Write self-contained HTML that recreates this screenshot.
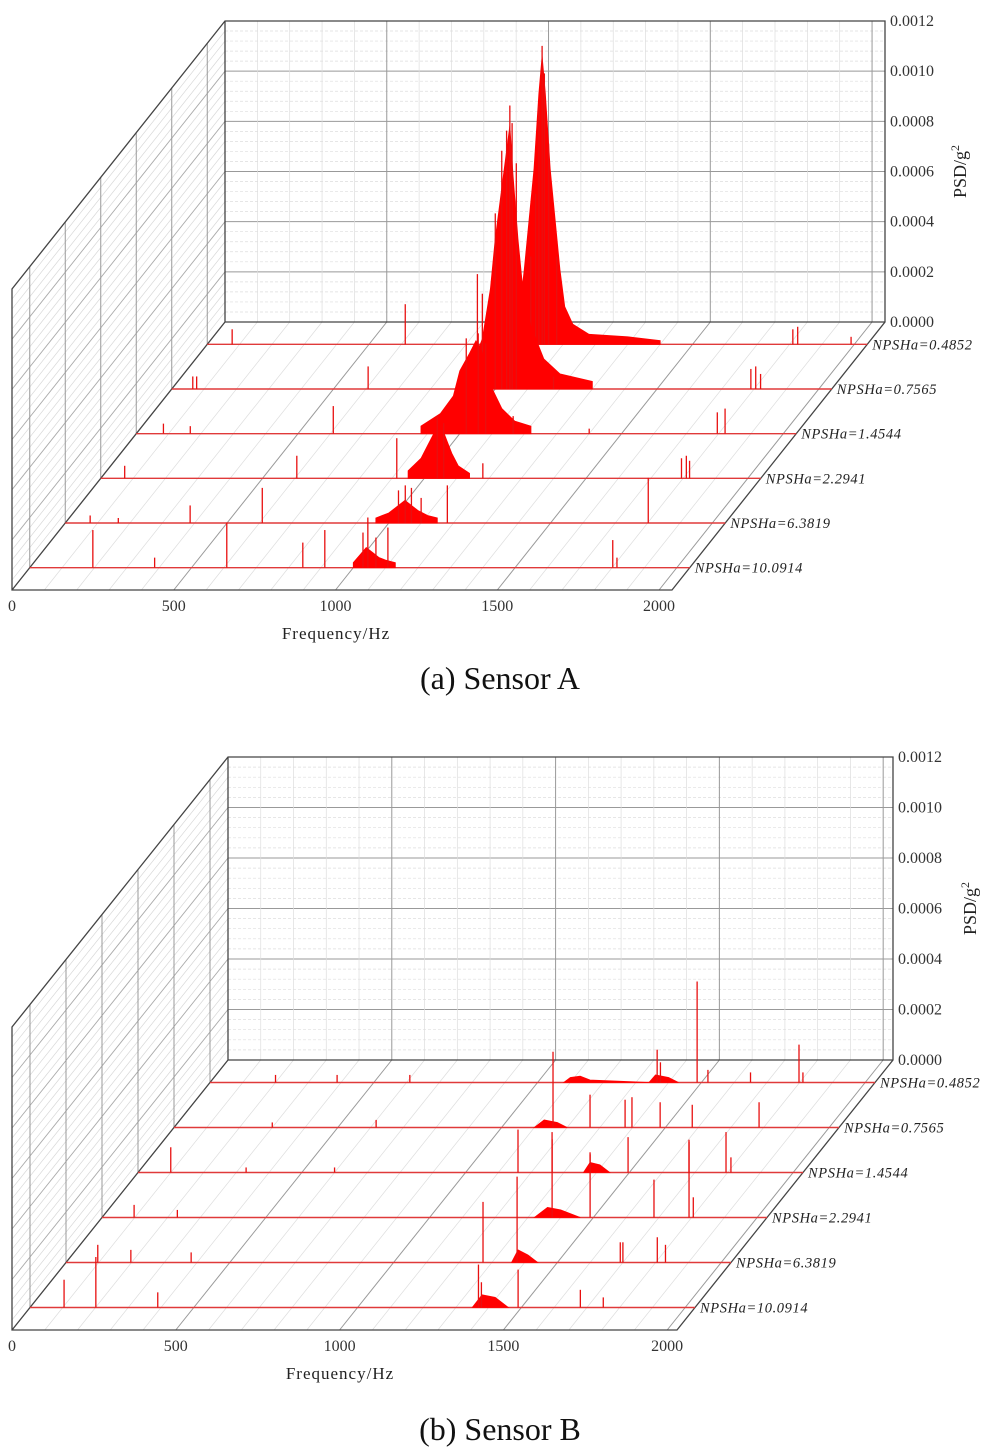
<!DOCTYPE html>
<html><head><meta charset="utf-8"><style>
html,body{margin:0;padding:0;background:#fff;}
svg{display:block;font-family:"Liberation Serif",serif;}
</style></head><body>
<svg id="fig" width="1001" height="1448" viewBox="0 0 1001 1448" xmlns="http://www.w3.org/2000/svg">
<g id="panelA"></g>
<g id="panelB"></g>
<text x="500" y="689" font-size="32" text-anchor="middle" fill="#111">(a) Sensor A</text>
<text x="500" y="1440" font-size="32" text-anchor="middle" fill="#111">(b) Sensor B</text>
</svg>
<script>
// Shared category / tick data
const rowLabels = ['NPSHa=0.4852','NPSHa=0.7565','NPSHa=1.4544','NPSHa=2.2941','NPSHa=6.3819','NPSHa=10.0914'];
const yTickLabels = ['0.0000','0.0002','0.0004','0.0006','0.0008','0.0010','0.0012'];
const yTickValues = [0,2,4,6,8,10,12]; // units of 1e-4 g^2
const xTickLabels = ['0','500','1000','1500','2000'];
const xTickValues = [0,500,1000,1500,2000];

// Sensor A: spikes [freq Hz, PSD 1e-4 g^2]
const aSpikes0 = [[77,0.6],[612,1.6],[835,2.8],[1000,3.5],[1015,6],[1025,9.5],[1035,11.9],[1042,10.8],[1055,8],[1080,3.5],[1810,0.6],[1825,0.7],[1990,0.3]];
const aSpikes1 = [[65,0.5],[77,0.5],[607,0.9],[960,3.8],[1000,7],[1020,9.5],[1035,10.3],[1045,11.3],[1052,10.6],[1065,9],[1180,0.5],[1790,0.8],[1805,0.9],[1820,0.6]];
const aSpikes2 = [[84,0.4],[167,0.3],[609,1.1],[1020,3.8],[1057,4.0],[1080,3.6],[1165,0.7],[1400,0.2],[1796,0.85],[1820,1.0]];
const aSpikes3 = [[74,0.5],[606,0.9],[915,1.6],[1040,2.5],[1060,2.2],[1181,0.6],[1795,0.8],[1810,0.9],[1820,0.7]];
const aSpikes4 = [[77,0.3],[164,0.2],[386,0.7],[609,1.4],[1030,1.3],[1051,1.5],[1070,1.4],[1100,1.0],[1181,1.5],[1802,1.8]];
const aSpikes5 = [[195,1.5],[386,0.4],[609,1.8],[844,1.0],[912,1.5],[1030,1.4],[1045,2.0],[1070,1.2],[1107,1.6],[1802,1.1],[1815,0.4]];
// Sensor A broadband humps [freq, PSD]
const aHump0 = [[940,0.3],[967,1.5],[980,3],[995,5],[1010,7],[1025,10],[1035,11.5],[1045,10],[1060,7],[1075,5],[1090,3],[1105,1.5],[1130,0.8],[1180,0.4],[1300,0.3],[1400,0.15]];
const aHump1 = [[900,0.3],[930,1],[960,2],[985,4],[1000,6],[1020,8],[1035,9.5],[1045,10.5],[1055,8.5],[1070,6],[1085,4],[1110,2.5],[1150,1.2],[1200,0.6],[1300,0.3]];
const aHump2 = [[880,0.3],[940,0.8],[980,1.5],[1000,2.5],[1030,3.2],[1050,3.7],[1065,3.4],[1080,2.8],[1100,1.8],[1130,1],[1170,0.5],[1220,0.3]];
const aHump3 = [[950,0.3],[990,0.8],[1010,1.3],[1030,1.8],[1045,2.2],[1055,2.0],[1070,1.5],[1085,1.0],[1105,0.5],[1140,0.2]];
const aHump4 = [[960,0.2],[1000,0.4],[1030,0.7],[1050,0.9],[1070,0.7],[1090,0.5],[1120,0.3],[1150,0.2]];
const aHump5 = [[1000,0.2],[1020,0.5],[1040,0.8],[1060,0.6],[1080,0.4],[1100,0.3],[1130,0.2]];

// Sensor B spikes
const bSpikes0 = [[200,0.3],[388,0.3],[610,0.3],[1365,1.3],[1375,0.8],[1487,4.0],[1520,0.5],[1650,0.4],[1798,1.5],[1810,0.4]];
const bSpikes1 = [[300,0.2],[617,0.3],[1157,3.0],[1270,1.3],[1377,1.1],[1398,1.2],[1484,1.0],[1582,0.9],[1786,1.0]];
const bSpikes2 = [[100,1.0],[330,0.2],[600,0.2],[1160,1.7],[1264,1.6],[1380,0.8],[1496,1.4],[1682,1.3],[1795,1.6],[1810,0.6]];
const bSpikes3 = [[98,0.5],[230,0.3],[1374,3.1],[1490,2.5],[1685,1.5],[1792,3.0],[1805,0.8]];
const bSpikes4 = [[97,0.7],[198,0.5],[382,0.4],[1273,2.4],[1377,3.4],[1692,0.8],[1700,0.8],[1805,1.0],[1830,0.7]];
const bSpikes5 = [[104,1.1],[201,2.0],[390,0.6],[1369,1.7],[1378,1.0],[1490,1.5],[1680,0.7],[1750,0.4]];
const bHump0 = [[1080,0],[1100,0.2],[1130,0.25],[1160,0.1],[1340,0],[1360,0.3],[1400,0.2],[1430,0]];
const bHump1 = [[1100,0],[1130,0.3],[1170,0.2],[1200,0]];
const bHump2 = [[1360,0],[1380,0.4],[1410,0.3],[1440,0]];
const bHump3 = [[1320,0],[1360,0.4],[1400,0.3],[1460,0]];
const bHump4 = [[1360,0],[1380,0.5],[1410,0.3],[1440,0]];
const bHump5 = [[1350,0],[1380,0.5],[1420,0.4],[1460,0]];

const NS='http://www.w3.org/2000/svg';
function mk(parent, tag, attrs){
  const e=document.createElementNS(NS,tag);
  for(const k in attrs) e.setAttribute(k,attrs[k]);
  parent.appendChild(e); return e;
}

function drawPanel(g, cfg, spikes, humps, prefix){
  const sx = cfg.w / cfg.fmax, sy = (cfg.bottom-cfg.top)/12;
  const bx = f => cfg.bx0 + f*sx;
  const vy = v => cfg.bottom - v*sy;
  const P = (f,v,d) => [bx(f)+cfg.dx*d, vy(v)+cfg.dy*d];
  const xR = cfg.bx0+cfg.w;
  for(let v=0; v<=12; v+=0.4){
    const a=P(0,v,0), b=P(0,v,1);
    const major = Math.abs(v/2-Math.round(v/2))<1e-6;
    const l=mk(g,'line',{x1:a[0],y1:a[1],x2:b[0],y2:b[1],stroke:major?'#aaa':'#d8d8d8','stroke-width':major?0.9:0.7});
    
    
  }
  for(let i=0;i<6;i++){
    const d=(i+0.5)/6; const a=P(0,0,d), b=P(0,12,d);
    const l=mk(g,'line',{x1:a[0],y1:a[1],x2:b[0],y2:b[1],stroke:'#999','stroke-width':1});
    
    
  }
  for(let v=0; v<=12; v+=0.4){
    const major = Math.abs(v/2-Math.round(v/2))<1e-6;
    const l=mk(g,'line',{x1:cfg.bx0,y1:vy(v),x2:xR,y2:vy(v),stroke:major?'#999':'#ddd','stroke-width':major?1:0.7,'stroke-dasharray':major?'':'3,2'});
    
    
  }
  for(let f=100; f<cfg.fmax; f+=100){
    const major = f%500===0;
    const l=mk(g,'line',{x1:bx(f),y1:cfg.top,x2:bx(f),y2:cfg.bottom,stroke:major?'#999':'#ddd','stroke-width':major?1:0.7});
    
    
  }
  for(let f=100; f<cfg.fmax; f+=100){
    const major = f%500===0; const a=P(f,0,0), b=P(f,0,1);
    const l=mk(g,'line',{x1:a[0],y1:a[1],x2:b[0],y2:b[1],stroke:major?'#999':'#ddd','stroke-width':major?1:0.7});
    
    
  }
  const fl=P(0,0,1), fr=P(cfg.fmax,0,1), tl=P(0,12,1);
  const frame=mk(g,'path',{d:`M${fl[0]},${fl[1]} L${tl[0]},${tl[1]} L${cfg.bx0},${cfg.top} L${xR},${cfg.top} L${xR},${cfg.bottom} L${fr[0]},${fr[1]} Z M${cfg.bx0},${cfg.top} L${cfg.bx0},${cfg.bottom} L${xR},${cfg.bottom} M${cfg.bx0},${cfg.bottom} L${fl[0]},${fl[1]}`,fill:'none',stroke:'#444','stroke-width':1.3});
  
  
  for(let r=0;r<6;r++){
    const d=(r+0.5)/6;
    const sg=mk(g,'g',{});
    
    
    const a=P(0,0,d), b=P(cfg.fmax,0,d);
    const base=mk(sg,'line',{x1:a[0],y1:a[1],x2:b[0],y2:b[1],stroke:'#e03a3a','stroke-width':1.4});
    
    
    const h=humps[r];
    let dstr=''; const s=P(h[0][0],0,d); dstr+=`M${s[0]},${s[1]}`;
    h.forEach(p=>{const q=P(p[0],p[1],d); dstr+=` L${q[0]},${q[1]}`;});
    const e=P(h[h.length-1][0],0,d); dstr+=` L${e[0]},${e[1]} Z`;
    const hp=mk(sg,'path',{d:dstr,fill:'#ff0000',stroke:'#ff0000','stroke-width':0.8});
    
    
    spikes[r].forEach(p=>{
      const q0=P(p[0],0,d), q1=P(p[0],p[1],d);
      const l=mk(sg,'line',{x1:q0[0],y1:q0[1],x2:q1[0],y2:q1[1],stroke:'#e81010','stroke-width':1.3});
      
      
    });
    const t=mk(sg,'text',{x:b[0]+5,y:b[1]+5,'font-size':14.5,'font-style':'italic','letter-spacing':'0.6',fill:'#222'});
    t.textContent=rowLabels[r];
    
    
  }
  yTickValues.forEach((v,i)=>{
    const t=mk(g,'text',{x:xR+5,y:vy(v)+5,'font-size':16,fill:'#333'});
    t.textContent=yTickLabels[i];
    
    
  });
  const yt=mk(g,'text',{x:0,y:0,'font-size':18,fill:'#222','text-anchor':'middle',transform:`translate(${cfg.ytx},${(cfg.top+cfg.bottom)/2}) rotate(-90)`});
  yt.innerHTML='PSD/g<tspan dy="-7" font-size="12">2</tspan>';
  
  
  xTickValues.forEach((f,i)=>{
    const q=P(f,0,1);
    const t=mk(g,'text',{x:q[0],y:q[1]+21,'font-size':16,fill:'#333','text-anchor':'middle'});
    t.textContent=xTickLabels[i];
    
    
  });
  const xt=mk(g,'text',{x:cfg.xtx,y:fl[1]+49,'font-size':17,'letter-spacing':'1',fill:'#222','text-anchor':'middle'});
  xt.textContent='Frequency/Hz';
  
  
}

drawPanel(document.getElementById('panelA'),
  {bx0:225,w:660,fmax:2040,top:21,bottom:322,dx:-213,dy:268,ytx:966,xtx:336},
  [aSpikes0,aSpikes1,aSpikes2,aSpikes3,aSpikes4,aSpikes5],
  [aHump0,aHump1,aHump2,aHump3,aHump4,aHump5],'sensor-a');
drawPanel(document.getElementById('panelB'),
  {bx0:228,w:665,fmax:2030,top:757,bottom:1060,dx:-216,dy:270,ytx:976,xtx:340},
  [bSpikes0,bSpikes1,bSpikes2,bSpikes3,bSpikes4,bSpikes5],
  [bHump0,bHump1,bHump2,bHump3,bHump4,bHump5],'sensor-b');
</script>
</body></html>
